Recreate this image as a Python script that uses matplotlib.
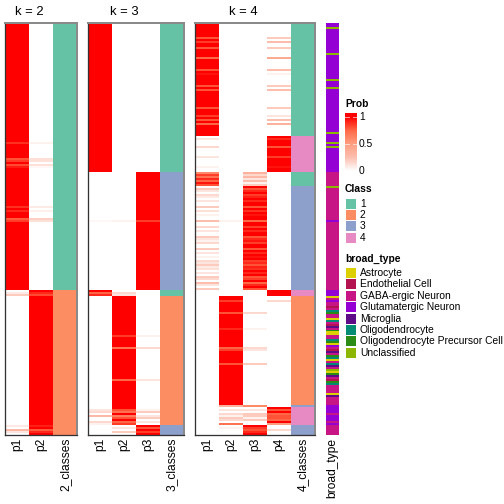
import numpy as np
import matplotlib.pyplot as plt
from matplotlib.colors import LinearSegmentedColormap, to_rgb
from matplotlib.patches import Rectangle

plt.rcParams['font.family'] = ['Liberation Sans', 'DejaVu Sans']

# rows are grouped into blocks; same row order in every panel
block_rows = [57, 18, 7, 52, 3, 55, 1, 9, 5]
class_k2 = [1, 1, 1, 1, 2, 2, 2, 2, 2]
class_k3 = [1, 1, 3, 3, 1, 2, 2, 2, 3]
class_k4 = [1, 4, 1, 3, 4, 2, 3, 4, 3]

# rows whose membership is not clean (row index -> probability per class)
soft_k2 = {
    60: [0.88, 0.05], 68: [0.8, 0.12], 69: [0.85, 0.12], 71: [0.82, 0.12],
    72: [0.93, 0.03], 92: [0.88, 0.08], 94: [0.9, 0.06], 98: [0.78, 0.18],
    99: [0.85, 0.12], 135: [0.08, 0.9], 136: [0.2, 0.82],
    202: [0.08, 0.92], 204: [0.3, 0.78], 205: [0.1, 0.9],
}
soft_k3 = {
    99: [0.03, 0.05, 0.85], 135: [0.75, 0.15, 0.0], 136: [0.9, 0.1, 0.0],
    157: [0.0, 0.85, 0.05], 163: [0.0, 0.7, 0.15], 179: [0.0, 0.75, 0.1],
    194: [0.1, 0.8, 0.05], 195: [0.15, 0.7, 0.2], 197: [0.3, 0.65, 0.1],
    198: [0.0, 0.8, 0.2], 200: [0.15, 0.75, 0.1], 201: [0.05, 0.85, 0.0],
    203: [0.0, 0.1, 0.8], 205: [0.0, 0.2, 0.85],
}
soft_k4 = {
    7: [0.8, 0, 0, 0.2], 9: [0.85, 0, 0, 0.25], 12: [0.8, 0, 0, 0.2],
    17: [0.75, 0, 0, 0.4], 23: [0.8, 0, 0, 0.25], 25: [0.95, 0, 0, 0.05],
    31: [0.8, 0, 0, 0.2], 33: [0.8, 0, 0, 0.25], 42: [0.8, 0, 0, 0.2],
    46: [0.85, 0, 0, 0.1], 48: [0.8, 0, 0, 0.25], 50: [0.75, 0, 0, 0.35],
    58: [0.1, 0, 0, 0.9], 62: [0.15, 0, 0, 0.8], 67: [0.1, 0, 0, 0.85],
    72: [0.05, 0, 0, 0.95],
    75: [0.6, 0, 0.35, 0], 76: [0.85, 0, 0.15, 0], 77: [0.7, 0, 0.3, 0],
    78: [0.9, 0, 0.1, 0], 79: [0.75, 0, 0.25, 0], 80: [0.95, 0, 0.05, 0],
    81: [0.8, 0, 0.2, 0],
    83: [0.2, 0, 0.8, 0], 84: [0.1, 0, 0.9, 0], 86: [0.15, 0, 0.85, 0],
    87: [0.08, 0, 0.92, 0], 89: [0.1, 0, 0.9, 0], 92: [0.2, 0, 0.8, 0],
    94: [0.12, 0, 0.88, 0], 96: [0.05, 0, 0.95, 0], 99: [0.25, 0.05, 0.75, 0],
    102: [0.15, 0, 0.85, 0], 104: [0.1, 0, 0.9, 0], 107: [0.2, 0, 0.8, 0],
    108: [0.1, 0, 0.9, 0], 109: [0.05, 0, 0.95, 0], 110: [0.15, 0, 0.85, 0],
    113: [0.2, 0, 0.8, 0], 115: [0.1, 0, 0.9, 0], 117: [0.05, 0, 0.95, 0],
    119: [0.15, 0, 0.85, 0], 120: [0.1, 0, 0.9, 0], 121: [0.2, 0, 0.8, 0],
    122: [0.08, 0, 0.92, 0], 123: [0.12, 0, 0.88, 0], 125: [0.1, 0, 0.9, 0],
    127: [0.2, 0, 0.8, 0], 128: [0.15, 0, 0.85, 0], 130: [0.25, 0, 0.75, 0],
    131: [0.1, 0, 0.9, 0], 133: [0.2, 0, 0.8, 0],
    139: [0, 0.85, 0, 0.15], 145: [0, 0.8, 0.15, 0], 153: [0, 0.9, 0.05, 0],
    163: [0, 0.75, 0.15, 0], 164: [0, 0.85, 0.1, 0], 171: [0, 0.8, 0.2, 0],
    192: [0, 0.35, 0.6, 0],
    194: [0, 0.1, 0.1, 0.8], 196: [0, 0.15, 0.2, 0.75], 197: [0, 0.05, 0.2, 0.8],
    198: [0, 0.2, 0.05, 0.8], 199: [0, 0.15, 0.2, 0.75], 201: [0, 0.7, 0, 0.5],
    203: [0, 0.05, 0.85, 0], 204: [0, 0, 0.8, 0.15], 205: [0, 0, 0.9, 0],
}

# broad_type per row, 10 rows per chunk
broad_codes = (
    "UUXUUUUUUU" "UUUUUXUUUU" "UUUUUUUUXU" "UUXUUUUUUU" "UUUUUUUUUU"
    "UUUUUXUUUU" "XUXUUUUUUU" "UUUUUGGGGG" "GGXGGGGGGG" "GGGGGGGGGU"
    "GGGGGGGGGG" "GGGGGGGGGG" "GGGGGGGGGG" "GGGGUUUAGU" "GGEGOPGGAO"
    "GEMGPAAGGO" "PAUGEMGPOA" "GOMGXAPMGE" "POGGGGAMGG" "GGUUUUGUUU"
    "GUGGGGG"
)
broad_names = ["Astrocyte", "Endothelial Cell", "GABA-ergic Neuron",
               "Glutamatergic Neuron", "Microglia", "Oligodendrocyte",
               "Oligodendrocyte Precursor Cell", "Unclassified"]
broad_keys = ["A", "E", "G", "U", "M", "O", "P", "X"]
broad_colors = ["#DDD000", "#B3134F", "#C71585", "#9400D3",
                "#5E0B87", "#008B74", "#2A8B16", "#8DB600"]
class_colors = {1: "#66C2A5", 2: "#FC8D62", 3: "#8DA0CB", 4: "#E78AC3"}

prob_cmap = LinearSegmentedColormap.from_list(
    "prob", [(0, "#FFFFFF"), (0.25, "#FCBEAE"), (0.5, "#FF9E81"),
             (0.75, "#FF6846"), (1, "#FF0000")])

W = H = 504
top, bottom = 23, 435
n_rows = sum(block_rows)


def rect(x0, x1, y0=top, y1=bottom):
    return [x0 / W, 1 - y1 / H, (x1 - x0) / W, (y1 - y0) / H]


def panel(x0, k, classes, soft):
    row_class = np.repeat(classes, block_rows)
    prob = np.zeros((n_rows, k))
    prob[np.arange(n_rows), row_class - 1] = 1.0
    for r, vals in soft.items():
        prob[r] = vals
    img = np.zeros((n_rows, k + 1, 3))
    img[:, :k] = prob_cmap(prob)[:, :, :3]
    img[:, k] = [to_rgb(class_colors[c]) for c in row_class]

    ax = fig.add_axes(rect(x0, x0 + 24 * (k + 1)))
    ax.imshow(img, aspect='auto', interpolation='nearest',
              extent=(0, k + 1, n_rows, 0))
    ax.set_yticks([])
    ax.set_xticks(np.arange(k + 1) + 0.5)
    ax.set_xticklabels(["p%d" % (i + 1) for i in range(k)] + ["%d_classes" % k],
                       rotation=90, fontsize=12, va='top')
    ax.tick_params(axis='x', length=0, pad=3)
    for side in ['left', 'bottom']:
        ax.spines[side].set_color('#333333')
        ax.spines[side].set_linewidth(1.3)
    for side in ['top', 'right']:
        ax.spines[side].set_color('#8a8a8a')
        ax.spines[side].set_linewidth(2)
    fig.text((x0 + 12 * k) / W, 1 - 15 / H, "k = %d" % k,
             ha='center', va='baseline', fontsize=13)


fig = plt.figure(figsize=(7, 7), dpi=72)

panel(5, 2, class_k2, soft_k2)
panel(88, 3, class_k3, soft_k3)
panel(195, 4, class_k4, soft_k4)

# broad_type annotation column
ax_b = fig.add_axes(rect(326, 339))
bt_img = np.array([[to_rgb(broad_colors[broad_keys.index(c)])] for c in broad_codes])
ax_b.imshow(bt_img, aspect='auto', interpolation='nearest',
            extent=(0, 1, n_rows, 0))
ax_b.set_yticks([])
ax_b.set_xticks([0.5])
ax_b.set_xticklabels(["broad_type"], rotation=90, fontsize=12, va='top')
ax_b.tick_params(axis='x', length=0, pad=3)
for s in ax_b.spines.values():
    s.set_visible(False)

# legends, drawn in pixel coordinates
ax_l = fig.add_axes([0, 0, 1, 1], zorder=-1)
ax_l.set_xlim(0, W)
ax_l.set_ylim(H, 0)
ax_l.axis('off')

fs = 10.3
ax_l.text(345, 107, "Prob", fontsize=fs, fontweight='bold', va='baseline')
grad = np.clip(np.linspace(1.07, 0, 200), 0, 1)[:, None]
ax_l.imshow(grad, cmap=prob_cmap, vmin=0, vmax=1, aspect='auto',
            extent=(345, 357, 171, 113), interpolation='bilinear')
for v, y in [(1, 117), (0.5, 144), (0, 170.5)]:
    ax_l.plot([345, 349], [y, y], color='white', lw=1, alpha=0.6)
    ax_l.plot([353, 357], [y, y], color='white', lw=1, alpha=0.6)
    ax_l.text(359, y, "%g" % v, fontsize=fs, va='center')

ax_l.text(345, 192, "Class", fontsize=fs, fontweight='bold', va='baseline')
for i, c in enumerate([1, 2, 3, 4]):
    y = 199 + i * 11.2
    ax_l.add_patch(Rectangle((346, y), 10, 10, color=class_colors[c], lw=0))
    ax_l.text(360, y + 5, str(c), fontsize=fs, va='center')

ax_l.text(345, 262, "broad_type", fontsize=fs, fontweight='bold', va='baseline')
for i, (name, col) in enumerate(zip(broad_names, broad_colors)):
    y = 268 + i * 11.4
    ax_l.add_patch(Rectangle((346, y), 10, 10, color=col, lw=0))
    ax_l.text(360, y + 5, name, fontsize=fs, va='center')
ax_l.set_xlim(0, W)
ax_l.set_ylim(H, 0)

fig.savefig("out.png", dpi=72)
